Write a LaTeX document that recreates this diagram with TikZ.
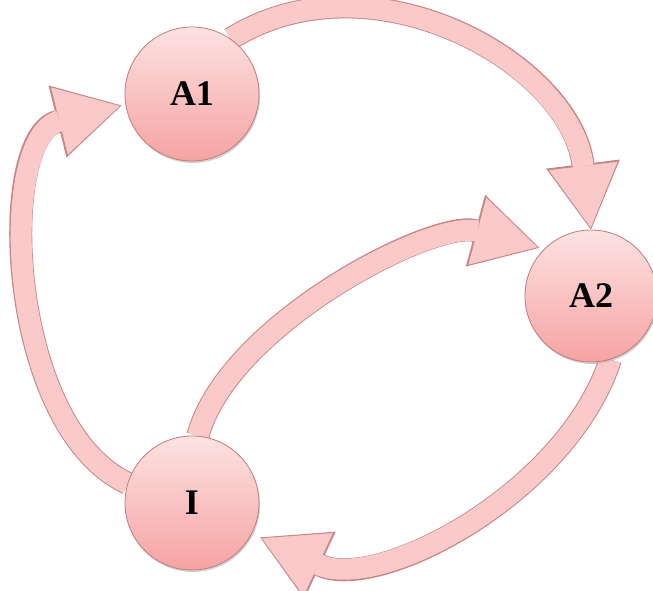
\documentclass[tikz,border=0pt]{standalone}
\usepackage{fontspec}
\setmainfont{Liberation Serif}
\usetikzlibrary{arrows.meta,shadows}

\definecolor{circtop}{HTML}{FDE2E2}
\definecolor{circbot}{HTML}{F6A3A3}
\definecolor{circline}{HTML}{C07A7A}
\definecolor{arrowfill}{HTML}{FAC9C9}
\definecolor{arrowline}{HTML}{C58686}

\tikzset{
	state/.style={circle, minimum size=134pt, inner sep=0pt, draw=circline, line width=0.8pt,
		top color=circtop, bottom color=circbot,
		drop shadow={shadow xshift=1pt, shadow yshift=-2pt, opacity=0.2},
		font=\fontsize{36}{40}\selectfont\bfseries},
	arrowedge/.style={line width=23pt, draw=arrowline,
		-{Triangle[length=66pt,width=74pt,line width=1pt]}},
	arrowbody/.style={line width=21pt, draw=arrowfill,
		-{Triangle[length=62pt,width=69pt,line width=0.5pt]}},
}

\begin{document}
\begin{tikzpicture}[x=1pt,y=1pt]
	\useasboundingbox (0,0) rectangle (653,590);
	% circles
	\path (192,496) coordinate (pA1);
	\path (591,294) coordinate (pA2);
	\path (192,87) coordinate (pI);
	\node[state, opacity=0] (A1) at (pA1) {};
	\node[state, opacity=0, minimum size=132pt] (A2) at (pA2) {};
	\node[state, opacity=0] (I) at (pI) {};
	% A1 -> A2
	\draw[arrowedge] (A1.55) to[out=32,in=97,looseness=1.05] (A2.north);
	\draw[arrowbody, shorten >=2pt] (A1.55) to[out=32,in=97,looseness=1.05] (A2.north);
	% A2 -> I
	\draw[arrowedge, shorten >=9pt] (A2.287) to[out=252,in=-25,looseness=0.9] (I.-27);
	\draw[arrowbody, shorten >=11pt] (A2.287) to[out=252,in=-25,looseness=0.9] (I.-27);
	% I -> A2
	\draw[arrowedge, shorten >=5pt] (I.85) to[out=75,in=165,looseness=0.75] (A2.135);
	\draw[arrowbody, shorten >=7pt] (I.85) to[out=75,in=165,looseness=0.75] (A2.135);
	% I -> A1
	\draw[arrowedge, shorten >=4pt] (I.163) to[out=155,in=194,looseness=0.9] (A1.189);
	\draw[arrowbody, shorten >=6pt] (I.163) to[out=155,in=194,looseness=0.9] (A1.189);
	% circles on top
	\node[state] at (pA1) {A1};
	\node[state, minimum size=132pt] at (pA2) {A2};
	\node[state] at (pI) {I};
\end{tikzpicture}
\end{document}
